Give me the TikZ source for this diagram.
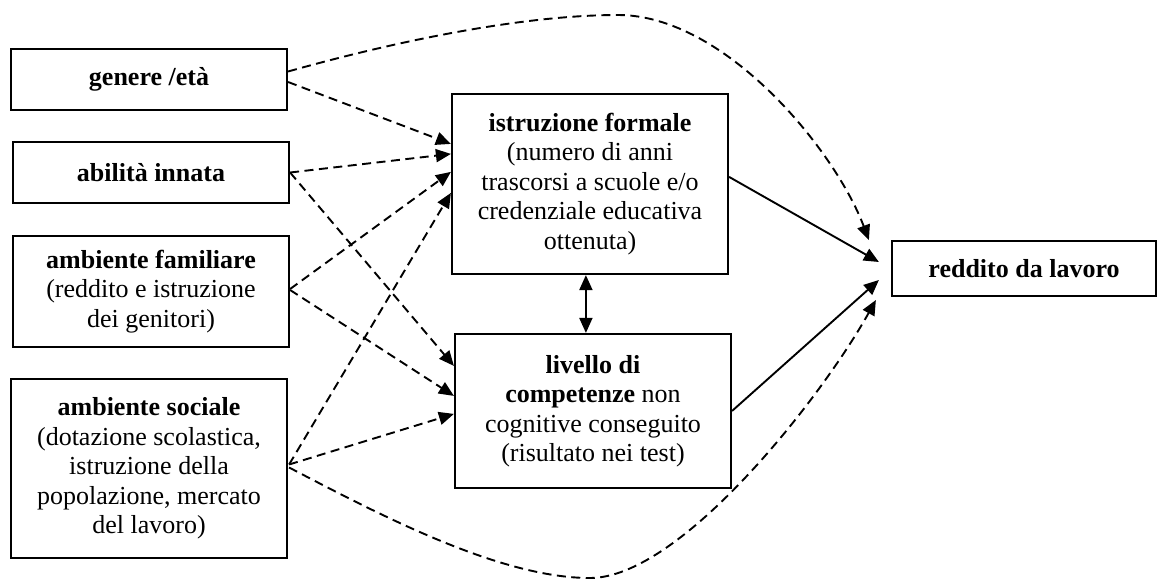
\documentclass[tikz,border=0pt]{standalone}
\usepackage{fontspec}
\setmainfont{Liberation Serif}
\usetikzlibrary{calc,arrows.meta}
\begin{document}
\begin{tikzpicture}[x=1pt,y=-1pt,
  box/.style={draw, line width=2.2pt, rectangle, align=center, inner sep=0pt,
    font=\fontsize{26}{29.5}\selectfont},
  tip/.style={},
  dline/.style={line width=1.9pt, dash pattern=on 9pt off 5.5pt,
    -{Triangle[length=15pt,width=13pt]}},
  sline/.style={line width=1.9pt, -{Triangle[length=15pt,width=13pt]}},
  bline/.style={line width=1.9pt, {Triangle[length=15pt,width=13pt]}-{Triangle[length=15pt,width=13pt]}}
]
\useasboundingbox (0,0) rectangle (1157,579);

\node[box, minimum width=276pt, minimum height=61pt] (gen) at (149,79.5) {\textbf{genere /età}};
\node[box, minimum width=276pt, minimum height=61pt] (abi) at (151,172.5) {\textbf{abilità innata}};
\node[box, minimum width=276pt, minimum height=111pt] (fam) at (151,291.5)
  {\textbf{ambiente familiare}\\(reddito e istruzione\\dei genitori)};
\node[box, minimum width=276pt, minimum height=179pt] (soc) at (149,468.5)
  {\textbf{ambiente sociale}\\(dotazione scolastica,\\istruzione della\\popolazione, mercato\\del lavoro)};
\node[box, minimum width=276pt, minimum height=180pt] (istr) at (590,184)
  {\textbf{istruzione formale}\\(numero di anni\\trascorsi a scuole e/o\\credenziale educativa\\ottenuta)};
\node[box, minimum width=276pt, minimum height=154pt] (liv) at (593,411)
  {\textbf{livello di}\\\textbf{competenze} non\\cognitive conseguito\\(risultato nei test)};
\node[box, minimum width=264pt, minimum height=55pt] (red) at (1024,268.5) {\textbf{reddito da lavoro}};

% anchor points
\coordinate (genA) at ($(gen.east)+(0,-8)$);
\coordinate (genB) at ($(gen.east)+(0,2.5)$);
\coordinate (socA) at ($(soc.east)+(1,-4)$);
\coordinate (socB) at ($(soc.east)+(1,-1)$);

% dashed arrows into istruzione formale
\draw[dline] (genB) -- ($(istr.north west)+(0,51)$);
\draw[dline] (abi.east) -- ($(istr.north west)+(0,61)$);
\draw[dline] ($(fam.east)+(0,-2.5)$) -- ($(istr.north west)+(0,79)$);
\draw[dline] (socA) -- ($(istr.north west)+(0,100)$);

% dashed arrows into livello
\draw[dline] (abi.east) -- ($(liv.north west)+(0,33)$);
\draw[dline] ($(fam.east)+(0,-1.5)$) -- ($(liv.north west)+(0,63)$);
\draw[dline] (socA) -- ($(liv.north west)+(0,81)$);

% long dashed curves
\draw[dline] (genA) .. controls (400,40) and (525,15) .. (618,15)
  .. controls (725,15) and (835,150) .. ($(red.west)+(-22,-28.5)$);
\draw[dline] (socB) .. controls (380,515) and (500,578) .. (590,578)
  .. controls (680,578) and (820,400) .. ($(red.west)+(-15,31.5)$);

% solid arrows
\draw[sline] ($(istr.north east)+(0,84)$) -- ($(red.west)+(-12,-6.5)$);
\draw[sline] ($(liv.north east)+(0,78)$) -- ($(red.west)+(-12,11.5)$);
\draw[bline] ($(istr.south west)+(135,0)$) -- ($(liv.north west)+(132,0)$);
\end{tikzpicture}
\end{document}
